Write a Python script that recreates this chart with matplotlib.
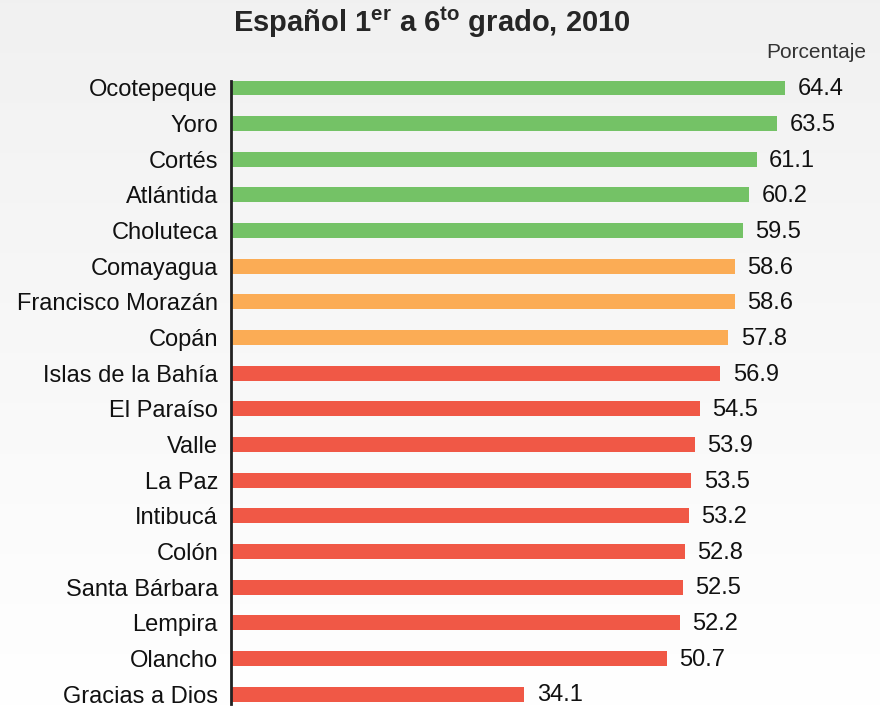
import numpy as np
import matplotlib
matplotlib.use('Agg')
import matplotlib.pyplot as plt

plt.rcParams['font.family'] = ['Liberation Sans', 'DejaVu Sans']
plt.rcParams['mathtext.fontset'] = 'custom'
plt.rcParams['mathtext.rm'] = 'Liberation Sans:bold'
plt.rcParams['mathtext.bf'] = 'Liberation Sans:bold'

departamentos = ['Ocotepeque', 'Yoro', 'Cortés', 'Atlántida', 'Choluteca',
                 'Comayagua', 'Francisco Morazán', 'Copán', 'Islas de la Bahía',
                 'El Paraíso', 'Valle', 'La Paz', 'Intibucá', 'Colón',
                 'Santa Bárbara', 'Lempira', 'Olancho', 'Gracias a Dios']
valores = [64.4, 63.5, 61.1, 60.2, 59.5, 58.6, 58.6, 57.8, 56.9,
           54.5, 53.9, 53.5, 53.2, 52.8, 52.5, 52.2, 50.7, 34.1]
grupos = ['alto'] * 5 + ['medio'] * 3 + ['bajo'] * 10
colores = {'alto': '#74c266', 'medio': '#fbac55', 'bajo': '#f05846'}

W, H = 880, 706
fig = plt.figure(figsize=(W / 100, H / 100), dpi=100)

# fondo con degradado
bg = fig.add_axes([0, 0, 1, 1], zorder=-1)
grad = np.linspace(0.945, 1.0, 256).reshape(-1, 1)
bg.imshow(np.dstack([grad, grad, grad]), aspect='auto', extent=[0, 1, 0, 1])
bg.axis('off')

ax = fig.add_axes([230.5 / W, 2 / H, (W - 230.5) / W, 623.5 / H])
ax.patch.set_alpha(0)
y = np.arange(len(valores))
ax.barh(y, valores, height=0.42, color=[colores[g] for g in grupos])
ax.set_xlim(0, (W - 230.5) / 8.61)
ax.set_ylim(17.28, -0.21)
ax.set_yticks(y)
ax.set_yticklabels(departamentos, fontsize=17, color='#111111')
ax.tick_params(axis='y', length=0, pad=9)
ax.set_xticks([])
for s in ['top', 'right', 'bottom']:
    ax.spines[s].set_visible(False)
ax.spines['left'].set_linewidth(2)
ax.spines['left'].set_color('#222222')

for yi, v in zip(y, valores):
    ax.annotate(f'{v:.1f}', (v, yi), xytext=(9, -1), textcoords='offset points',
                ha='left', va='center', fontsize=17, color='#111111')

fig.text(431.5 / W, 1 - 22 / H, r'Español 1$^{\mathbf{er}}$ a 6$^{\mathbf{to}}$ grado, 2010',
         ha='center', va='center', fontsize=21, fontweight='bold', color='#262626')
fig.text(866 / W, 1 - 53 / H, 'Porcentaje', ha='right', va='center',
         fontsize=15, color='#333333')

fig.savefig('out.png', dpi=100)
